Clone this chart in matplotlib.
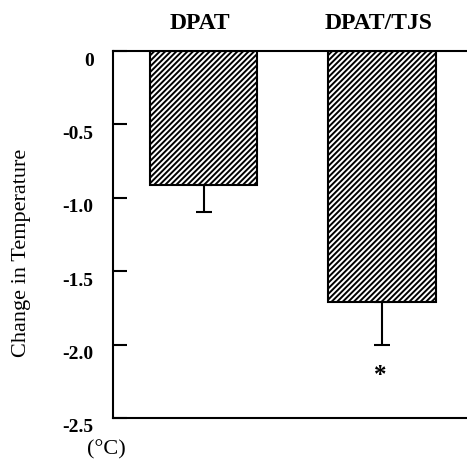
import numpy as np
import matplotlib.pyplot as plt
import matplotlib.transforms as mtransforms

groups = ["DPAT", "DPAT/TJS"]
change = [-0.91, -1.71]
err = [0.19, 0.29]
yticks = [0, -0.5, -1.0, -1.5, -2.0, -2.5]
ytick_labels = ["0", "-0.5", "-1.0", "-1.5", "-2.0", "-2.5"]

plt.rcParams["font.family"] = ["Liberation Serif", "DejaVu Serif"]
plt.rcParams["hatch.linewidth"] = 1.4

fig = plt.figure(figsize=(4.67, 4.68), dpi=100)
ax = fig.add_axes([0.242, 0.107, 0.758, 0.784])

x = np.arange(len(groups))
ax.bar(x, change, width=0.6, color="white", edgecolor="black",
       linewidth=1.5, hatch="//////")
# error bars only point downward
ax.errorbar(x, change, yerr=[err, np.zeros(len(err))], fmt="none",
            ecolor="black", elinewidth=1.5, capsize=5.5, capthick=1.5)

# significance mark
ax.text(x[1] - 0.01, change[1] - err[1] - 0.21, "*", ha="center", va="center",
        fontsize=18, fontweight="bold")

ax.set_xlim(-0.507, 1.476)
ax.set_ylim(-2.5, 0)
ax.set_xticks([])
ax.set_yticks(yticks)
ax.set_yticklabels(ytick_labels, fontweight="bold", fontsize=14)
ax.tick_params(axis="y", direction="in", length=10, width=1.5, pad=14)
off = mtransforms.ScaledTranslation(0, -8 / 100, fig.dpi_scale_trans)
for lab in ax.get_yticklabels():
    lab.set_transform(lab.get_transform() + off)

ax.spines["right"].set_visible(False)
for s in ["left", "top", "bottom"]:
    ax.spines[s].set_linewidth(1.5)

for xi, g in zip(x, groups):
    ax.text(xi - 0.02, 1.074, g, transform=ax.get_xaxis_transform(), ha="center",
            va="center", fontsize=17, fontweight="bold")

fig.text(0.045, 0.46, "Change in Temperature", rotation=90, ha="center",
         va="center", fontsize=16)
fig.text(0.228, 0.038, "(°C)", ha="center", va="center", fontsize=16)

fig.savefig("out.png", dpi=100)
